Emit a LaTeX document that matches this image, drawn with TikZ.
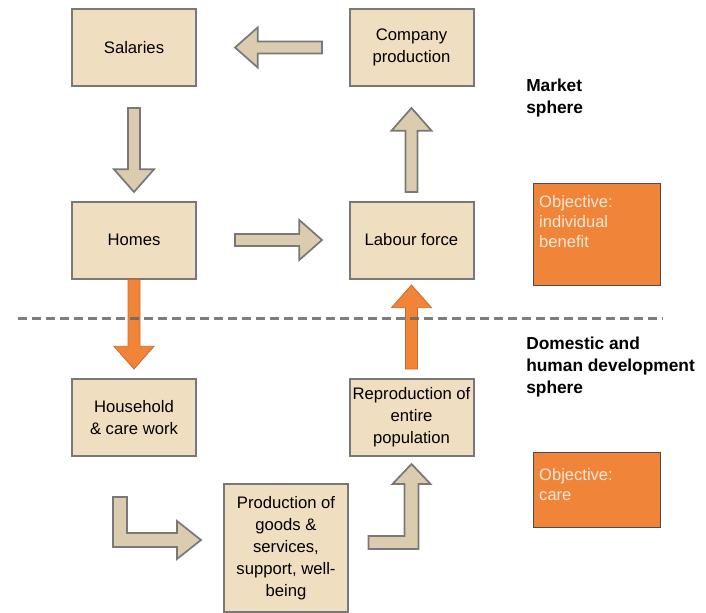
\documentclass[tikz,border=0pt]{standalone}
\usepackage{fontspec}
\setmainfont{Liberation Sans}
\usetikzlibrary{calc}
\usetikzlibrary{positioning}

\definecolor{boxtan}{RGB}{240,222,192}
\definecolor{arrowtan}{RGB}{219,204,175}
\definecolor{edgegray}{RGB}{120,120,120}
\definecolor{careorange}{RGB}{240,133,58}
\definecolor{orangeedge}{RGB}{205,105,40}
\definecolor{objtext}{RGB}{252,232,215}

% fat block arrow from #2 (tail) to #3 (tip)
\newcommand{\blockarrow}[3][tanflow]{%
  \coordinate (ba-a) at (#2);
  \coordinate (ba-b) at (#3);
  \coordinate (ba-h) at ($(ba-b)!17pt!(ba-a)$);
  \filldraw[#1] ($(ba-a)!4.5pt!90:(ba-b)$) -- ($(ba-h)!4.5pt!-90:(ba-a)$)
    -- ($(ba-h)!15pt!-90:(ba-a)$) -- (ba-b) -- ($(ba-h)!15pt!90:(ba-a)$)
    -- ($(ba-h)!4.5pt!90:(ba-a)$) -- ($(ba-a)!4.5pt!-90:(ba-b)$) -- cycle;}

\begin{document}
\begin{tikzpicture}[x=0.75pt,y=-0.75pt,
    box/.style={draw=edgegray, fill=boxtan, line width=1.5pt, minimum width=93pt,
      minimum height=57.75pt, align=center, inner sep=2pt,
      font=\fontsize{12.5}{16.5}\selectfont},
    objbox/.style={draw=black!70, fill=careorange, line width=0.8pt, minimum width=95.25pt},
    objtxt/.style={text=objtext, align=left, inner sep=0pt, anchor=north west,
      font=\fontsize{12.4}{15}\selectfont},
    sphere/.style={anchor=north west, align=left, inner sep=0pt,
      font=\bfseries\fontsize{13}{16.5}\selectfont},
    tanflow/.style={fill=arrowtan, draw=edgegray, line width=1.3pt},
    orangeflow/.style={fill=careorange, draw=orangeedge, line width=0.6pt},
    sepline/.style={draw=black!60, line width=2.25pt, dash pattern=on 6.75pt off 3.75pt, opacity=0.85}]
    \useasboundingbox (0,0) rectangle (706,613);

    \node[box] (sal) at (134,47.5) {Salaries};
    \node[box] (comp) at (411.5,47.5) {Company\\production};
    \node[box] (homes) at (134,240) {Homes};
    \node[box] (labour) at (411.5,240) {Labour force};
    \node[box] (house) at (134,417.5) {Household\\\& care work};
    \node[box] (repro) at (411.5,417.5) {Reproduction of\\entire\\population};
    \node[box, minimum height=96pt] (prod) at (286,548)
      {Production of\\goods \&\\services,\\support, well-\\being};

    \node[objbox, minimum height=76.5pt] (obj1) at (597,234.5) {};
    \node[objtxt] (obj1txt) at ($(obj1.north west)+(6,12)$) {Objective:\\individual\\benefit};
    \node[objbox, minimum height=56.25pt] (obj2) at (597,490) {};
    \node[objtxt] (obj2txt) at ($(obj2.north west)+(6,16)$) {Objective:\\care};

    \node[sphere] (market) at (526,79) {Market\\sphere};
    \node[sphere] (domestic) at (526,337) {Domestic and\\human development\\sphere};

    \blockarrow{$(comp.west)+(-26.5,0)$}{$(sal.east)+(38,0)$}
    \blockarrow{$(sal.south)+(0,21)$}{$(homes.north)+(0,-8.5)$}
    \blockarrow{$(homes.east)+(38,0)$}{$(labour.west)+(-26.5,0)$}
    \blockarrow{$(labour.north)+(0,-8.5)$}{$(comp.south)+(0,21)$}
    \blockarrow[orangeflow]{homes.south}{$(house.north)+(0,-9)$}
    \blockarrow[orangeflow]{$(repro.north)+(0,-9)$}{$(labour.south)+(0,5.5)$}

    \filldraw[tanflow, shift={(prod.west)}] (-110,-51) -- (-96,-51) -- (-96,-15)
      -- (-46,-15) -- (-46,-27) -- (-22,-8) -- (-46,11) -- (-46,-1) -- (-110,-1) -- cycle;
    \filldraw[tanflow, shift={(repro.south)}] (-43,79) -- (-7,79) -- (-7,27)
      -- (-19,27) -- (0,7) -- (19,27) -- (7,27) -- (7,92) -- (-43,92) -- cycle;

    \draw[sepline] (18,318) -- (663,318);
\end{tikzpicture}
\end{document}
